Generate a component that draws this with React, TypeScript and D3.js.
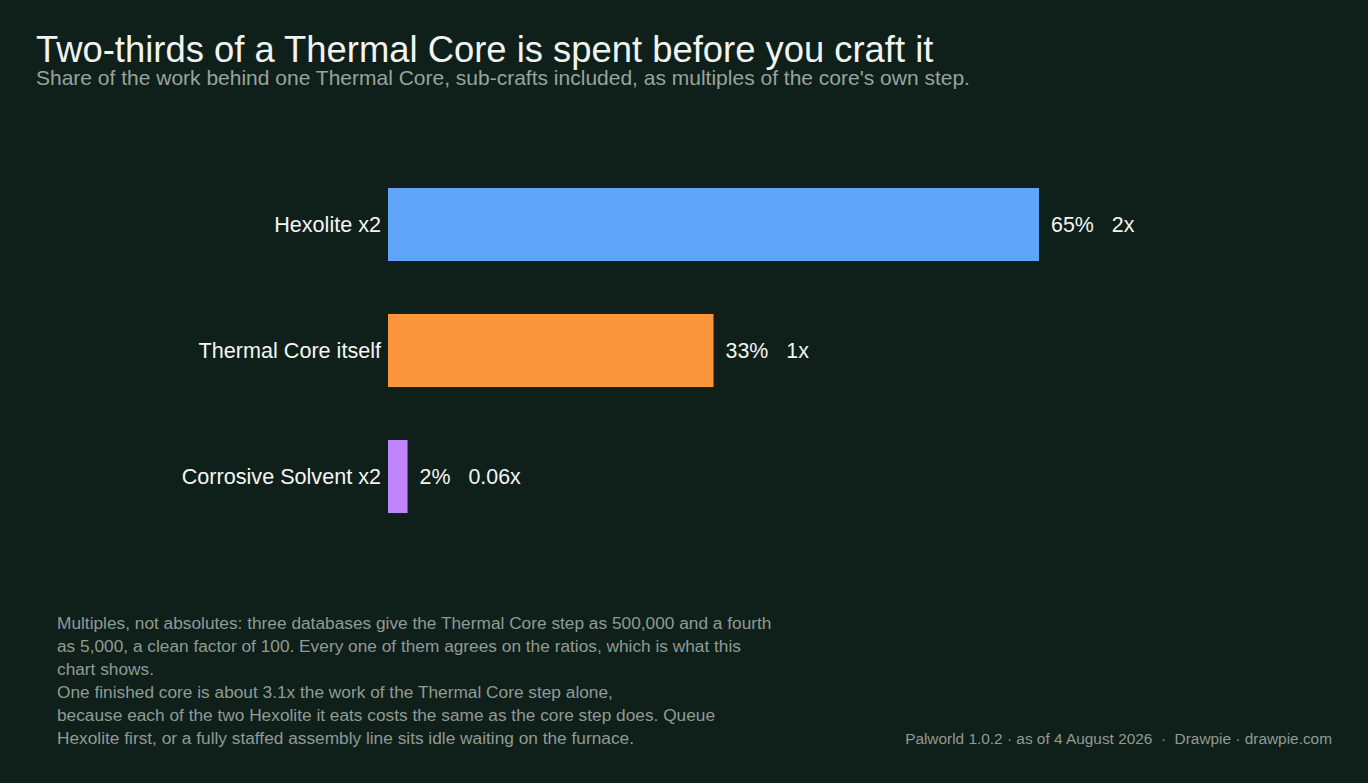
import { useEffect, useRef } from 'react';
import * as d3 from 'd3';

const categories = ['Hexolite x2', 'Thermal Core itself', 'Corrosive Solvent x2'];
const multiples = [2, 1, 0.06];
const shares = [65, 33, 2];
const multipleLabels = ['2x', '1x', '0.06x'];
const barColors = ['#60a5fa', '#fb963d', '#c084fc'];

const noteLines = [
  'Multiples, not absolutes: three databases give the Thermal Core step as 500,000 and a fourth',
  'as 5,000, a clean factor of 100. Every one of them agrees on the ratios, which is what this',
  'chart shows.',
  'One finished core is about 3.1x the work of the Thermal Core step alone,',
  'because each of the two Hexolite it eats costs the same as the core step does. Queue',
  'Hexolite first, or a fully staffed assembly line sits idle waiting on the furnace.',
];

const WIDTH = 1368;
const HEIGHT = 783;
const FONT = "'Liberation Sans', Arial, Helvetica, sans-serif";

export default function App() {
  const svgRef = useRef<SVGSVGElement>(null);

  useEffect(() => {
    if (!svgRef.current) return;
    const svg = d3.select(svgRef.current);
    svg.selectAll('*').remove();

    svg.append('rect').attr('width', WIDTH).attr('height', HEIGHT).attr('fill', '#0f1f1a');

    svg
      .append('text')
      .attr('x', 36)
      .attr('y', 62)
      .attr('fill', '#f2f4f2')
      .attr('font-size', 36.4)
      .attr('font-family', FONT)
      .text('Two-thirds of a Thermal Core is spent before you craft it');

    svg
      .append('text')
      .attr('x', 36)
      .attr('y', 85)
      .attr('fill', '#97a49d')
      .attr('font-size', 21)
      .attr('font-family', FONT)
      .text("Share of the work behind one Thermal Core, sub-crafts included, as multiples of the core's own step.");

    const margin = { left: 388, top: 161.5 };
    const x = d3.scaleLinear().domain([0, 2]).range([0, 651]);
    const y = d3
      .scaleBand<string>()
      .domain(categories)
      .range([0, 378])
      .paddingInner(0.42)
      .paddingOuter(0.21);

    const chart = svg.append('g').attr('transform', `translate(${margin.left},${margin.top})`);

    const rows = chart
      .selectAll('g.row')
      .data(categories)
      .join('g')
      .attr('class', 'row')
      .attr('transform', (d) => `translate(0,${y(d) ?? 0})`);

    rows
      .append('rect')
      .attr('x', 0)
      .attr('height', y.bandwidth())
      .attr('width', (_, i) => x(multiples[i]))
      .attr('fill', (_, i) => barColors[i]);

    rows
      .append('text')
      .attr('x', -7)
      .attr('y', y.bandwidth() / 2)
      .attr('dy', '0.36em')
      .attr('text-anchor', 'end')
      .attr('fill', '#f4f6f4')
      .attr('font-size', 21.6)
      .attr('font-family', FONT)
      .text((d) => d);

    const valueText = rows
      .append('text')
      .attr('x', (_, i) => x(multiples[i]) + 12)
      .attr('y', y.bandwidth() / 2)
      .attr('dy', '0.36em')
      .attr('fill', '#f4f6f4')
      .attr('font-size', 21.4)
      .attr('font-family', FONT);
    valueText.append('tspan').text((_, i) => `${shares[i]}%`);
    valueText
      .append('tspan')
      .attr('dx', 18)
      .text((_, i) => multipleLabels[i]);

    svg
      .append('g')
      .selectAll('text')
      .data(noteLines)
      .join('text')
      .attr('x', 57)
      .attr('y', (_, i) => 629 + i * 23)
      .attr('fill', '#8f9b94')
      .attr('font-size', 17.3)
      .attr('font-family', FONT)
      .text((d) => d);

    svg
      .append('text')
      .attr('x', 1332)
      .attr('y', 744)
      .attr('text-anchor', 'end')
      .attr('fill', '#8f9b94')
      .attr('font-size', 15.4)
      .attr('font-family', FONT)
      .attr('xml:space', 'preserve')
      .text('Palworld 1.0.2 · as of 4 August 2026  ·  Drawpie · drawpie.com');
  }, []);

  return (
    <div style={{ position: 'fixed', left: 0, top: 0, width: WIDTH, height: HEIGHT }}>
      <svg ref={svgRef} width={WIDTH} height={HEIGHT} viewBox={`0 0 ${WIDTH} ${HEIGHT}`} style={{ display: 'block' }} />
    </div>
  );
}
